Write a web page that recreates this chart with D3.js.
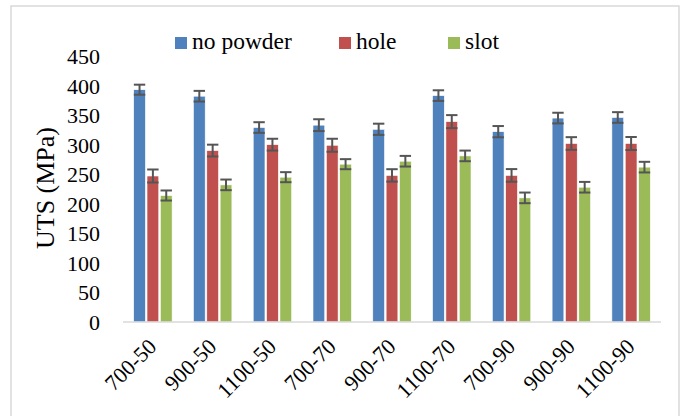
<!DOCTYPE html>
<html>
<head>
<meta charset="utf-8">
<script src="https://cdn.jsdelivr.net/npm/d3@7"></script>
<style>
  html, body { margin: 0; padding: 0; background: #fff; }
  svg { display: block; }
</style>
</head>
<body>
<svg id="chart" width="683" height="416"></svg>
<script>
// Ultimate tensile strength by process setting (power-speed)
const categories = ["700-50", "900-50", "1100-50", "700-70", "900-70", "1100-70", "700-90", "900-90", "1100-90"];
const seriesNames = ["no powder", "hole", "slot"];
const noPowder = [393, 382, 329, 333, 326, 383, 322, 345, 346];
const hole     = [247, 290, 300, 299, 248, 339, 248, 302, 302];
const slot     = [214, 232, 245, 267, 272, 281, 210, 228, 262];
const noPowderErr = [8.5, 9, 9, 10, 9.5, 9, 9.5, 9, 9];
const holeErr     = [11, 10, 10, 11, 10.5, 11, 10.7, 10.7, 11];
const slotErr     = [8.5, 9, 8.5, 8.5, 9, 9, 9, 9, 9];
const yTicks = [0, 50, 100, 150, 200, 250, 300, 350, 400, 450];
const colors = ["#4f81bd", "#c0504d", "#9bbb59"];

const values = [noPowder, hole, slot];
const errors = [noPowderErr, holeErr, slotErr];
const FONT = "'Liberation Serif', 'Times New Roman', serif";

const svg = d3.select("#chart");

// chart frame
svg.append("rect")
  .attr("x", 11).attr("y", 6)
  .attr("width", 668).attr("height", 420)
  .attr("fill", "none").attr("stroke", "#d9d9d9").attr("stroke-width", 1.5);

const plot = { left: 123, right: 661, top: 56, bottom: 322 };

const x0 = d3.scaleBand().domain(categories)
  .range([plot.left, plot.right]).paddingInner(0.33).paddingOuter(0.165);
const x1 = d3.scaleBand().domain(seriesNames).range([0, x0.bandwidth()]);
const y = d3.scaleLinear().domain([0, 450]).range([plot.bottom, plot.top]);

// y axis labels
const yAxis = d3.axisLeft(y).tickValues(yTicks).tickSize(0).tickPadding(0);
const yg = svg.append("g").attr("transform", "translate(100,0)").call(yAxis);
yg.select(".domain").remove();
yg.selectAll("text")
  .style("font-family", FONT)
  .style("font-size", "22px")
  .attr("fill", "#000")
  .attr("dy", "0.34em");

// y axis title
svg.append("text")
  .attr("transform", "translate(54,188) rotate(-90)")
  .attr("text-anchor", "middle")
  .style("font-family", FONT)
  .style("font-size", "26px")
  .text("UTS (MPa)");

// bars
const groups = svg.append("g").selectAll("g")
  .data(categories)
  .join("g")
  .attr("transform", d => `translate(${x0(d)},0)`);

const barW = x1.bandwidth();
groups.each(function (cat, ci) {
  const g = d3.select(this);
  seriesNames.forEach((s, si) => {
    const v = values[si][ci];
    g.append("rect")
      .attr("x", x1(s) + 0.8)
      .attr("y", y(v))
      .attr("width", barW - 1.6)
      .attr("height", y(0) - y(v))
      .attr("fill", colors[si])
      .attr("stroke", "#ffffff")
      .attr("stroke-width", 0.6);
  });
});

// baseline
svg.append("line")
  .attr("x1", plot.left).attr("x2", plot.right)
  .attr("y1", y(0)).attr("y2", y(0))
  .attr("stroke", "#d9d9d9").attr("stroke-width", 1.5);

// error bars
groups.each(function (cat, ci) {
  const g = d3.select(this);
  seriesNames.forEach((s, si) => {
    const v = values[si][ci], e = errors[si][ci];
    const cx = x1(s) + barW / 2;
    const eb = g.append("g").attr("stroke", "#555555").attr("stroke-width", 2);
    eb.append("line").attr("x1", cx).attr("x2", cx).attr("y1", y(v + e)).attr("y2", y(v - e));
    eb.append("line").attr("x1", cx - 5.7).attr("x2", cx + 5.7).attr("y1", y(v + e)).attr("y2", y(v + e));
    eb.append("line").attr("x1", cx - 5.7).attr("x2", cx + 5.7).attr("y1", y(v - e)).attr("y2", y(v - e));
  });
});

// x axis labels
svg.append("g").selectAll("text")
  .data(categories)
  .join("text")
  .attr("transform", d => `translate(${x0(d) + x0.bandwidth() / 2 + 5},${plot.bottom + 26}) rotate(-45)`)
  .attr("text-anchor", "end")
  .style("font-family", FONT)
  .style("font-size", "22px")
  .text(d => d);

// legend
const legendX = [175, 339, 448];
const legend = svg.append("g");
seriesNames.forEach((s, i) => {
  legend.append("rect")
    .attr("x", legendX[i]).attr("y", 37)
    .attr("width", 12).attr("height", 12)
    .attr("fill", colors[i]);
  legend.append("text")
    .attr("x", legendX[i] + 17).attr("y", 49)
    .style("font-family", FONT)
    .style("font-size", "23.5px")
    .text(s);
});
</script>
</body>
</html>
